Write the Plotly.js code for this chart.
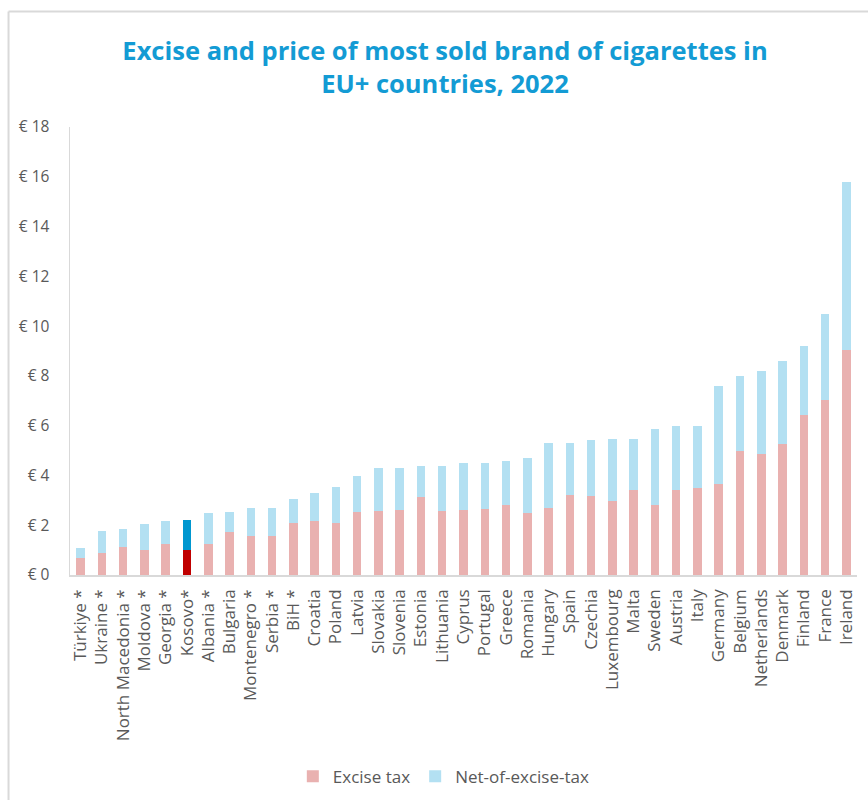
<!DOCTYPE html>
<html>
<head>
<meta charset="utf-8">
<script src="https://cdn.plot.ly/plotly-3.0.1.min.js"></script>
<style>html,body{margin:0;padding:0;background:#fff;}#chart{width:868px;height:800px;}</style>
</head>
<body>
<div id="chart"></div>
<script>
const countries = ["Türkiye *","Ukraine *","North Macedonia *","Moldova *","Georgia *","Kosovo*","Albania *","Bulgaria","Montenegro *","Serbia *","BiH *","Croatia","Poland","Latvia","Slovakia","Slovenia","Estonia","Lithuania","Cyprus","Portugal","Greece","Romania","Hungary","Spain","Czechia","Luxembourg","Malta","Sweden","Austria","Italy","Germany","Belgium","Netherlands","Denmark","Finland","France","Ireland"];
const exciseTax = [0.70,0.87,1.13,1.00,1.23,1.00,1.23,1.74,1.58,1.58,2.10,2.18,2.10,2.55,2.57,2.60,3.14,2.57,2.61,2.65,2.83,2.49,2.69,3.22,3.18,2.96,3.43,2.81,3.43,3.51,3.67,4.99,4.88,5.28,6.43,7.04,9.06];
const totalPrice = [1.07,1.77,1.85,2.05,2.17,2.21,2.49,2.55,2.68,2.71,3.06,3.30,3.53,3.99,4.30,4.30,4.38,4.38,4.49,4.49,4.58,4.72,5.31,5.32,5.43,5.48,5.48,5.87,6.00,6.00,7.60,7.99,8.20,8.58,9.19,10.49,15.80];
const netOfExcise = totalPrice.map((t,i)=>+(t-exciseTax[i]).toFixed(2));
const yTickVals = [0,2,4,6,8,10,12,14,16,18];
const yTickText = yTickVals.map(v=>"€ "+v);

const highlight = "Kosovo*";
const exciseColors = countries.map(c=>c===highlight?"#c00000":"#e9b1b0");
const netColors = countries.map(c=>c===highlight?"#0097d0":"#b3e0f2");

const font = "'Open Sans', Lato, sans-serif";
const traces = [
  {type:"bar", name:"Excise tax", x:countries, y:exciseTax, marker:{color:exciseColors, line:{width:0}}},
  {type:"bar", name:"Net-of-excise-tax", x:countries, y:netOfExcise, marker:{color:netColors, line:{width:0}}}
];
const layout = {
  width:868, height:800,
  barmode:"stack", bargap:0.6,
  margin:{l:70, r:11, t:127, b:225},
  paper_bgcolor:"#fff", plot_bgcolor:"#fff",
  font:{family:font, color:"#595959", size:16},
  title:{text:"Excise and price of most sold brand of cigarettes in<br>EU+ countries, 2022", x:445/868, xanchor:"center", xref:"container", yref:"container", y:0.925, yanchor:"top",
         font:{family:font, size:25.5, color:"#139bd4", weight:"bold"}},
  xaxis:{type:"category", tickmode:"array", tickvals:countries, ticktext:countries, tickangle:-90, automargin:false, showline:true, linecolor:"#d9d9d9", linewidth:1.5, showgrid:false, ticks:"", ticklabelstandoff:6, tickfont:{size:17, color:"#595959"}},
  yaxis:{range:[0,18], tickvals:yTickVals, ticktext:yTickText, automargin:false, showline:true, linecolor:"#d9d9d9", linewidth:1.5, showgrid:false, zeroline:false, ticks:"", ticklabelstandoff:16, tickfont:{size:15.5, color:"#595959"}},
  showlegend:true,
  legend:{orientation:"h", x:0.475, xanchor:"center", yref:"container", y:0.029, yanchor:"middle", font:{size:17, color:"#595959"}, traceorder:"normal"},
  shapes:[
    {type:"line", xref:"paper", yref:"paper", x0:-0.0781, x1:-0.0781, y0:-0.6, y1:1.258, line:{color:"#d9d9d9", width:2}},
    {type:"line", xref:"paper", yref:"paper", x0:-0.0781, x1:1.1, y0:1.258, y1:1.258, line:{color:"#d9d9d9", width:2}}
  ]
};
Plotly.newPlot("chart", traces, layout, {displayModeBar:false, staticPlot:true});
</script>
</body>
</html>
